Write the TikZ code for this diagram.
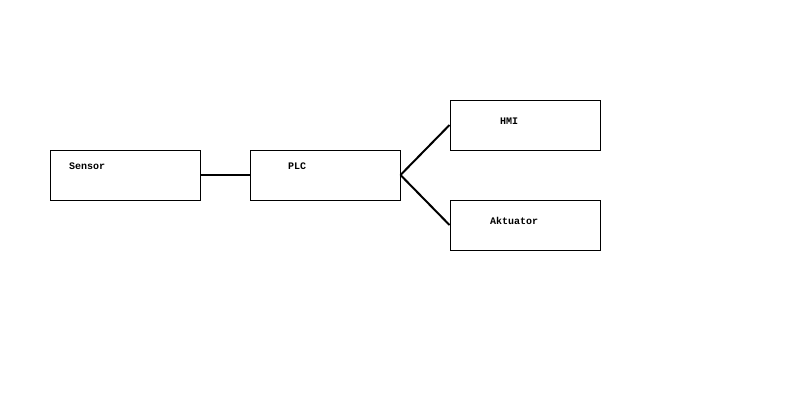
\documentclass[tikz,border=0pt]{standalone}
\usepackage{fontspec}
\setmonofont{Liberation Mono}
\begin{document}
\begin{tikzpicture}[x=1pt,y=-1pt,
  blockbox/.style={draw=black, line width=1pt, fill=white, inner sep=0pt,
    minimum width=150pt, minimum height=50pt},
  link/.style={draw=black, line width=2pt},
  lbl/.style={anchor=base west, inner sep=0pt, font=\ttfamily\bfseries\fontsize{10}{12}\selectfont}]
  \useasboundingbox[fill=white] (0,0) rectangle (800,400);
  % blocks
  \node[blockbox] (sensorbox) at (125,175) {};
  \node[blockbox] (plcbox) at (325,175) {};
  \node[blockbox] (hmibox) at (525,125) {};
  \node[blockbox] (aktbox) at (525,225) {};
  % labels
  \node[lbl] (sensorlbl) at (69,169) {Sensor};
  \node[lbl] (plclbl) at (288,169) {PLC};
  \node[lbl] (hmilbl) at (500,124) {HMI};
  \node[lbl] (aktlbl) at (490,224) {Aktuator};
  % connections
  \draw[link] (sensorbox.east) -- (plcbox.west);
  \draw[link] (plcbox.east) -- (hmibox.west);
  \draw[link] (plcbox.east) -- (aktbox.west);
\end{tikzpicture}
\end{document}
